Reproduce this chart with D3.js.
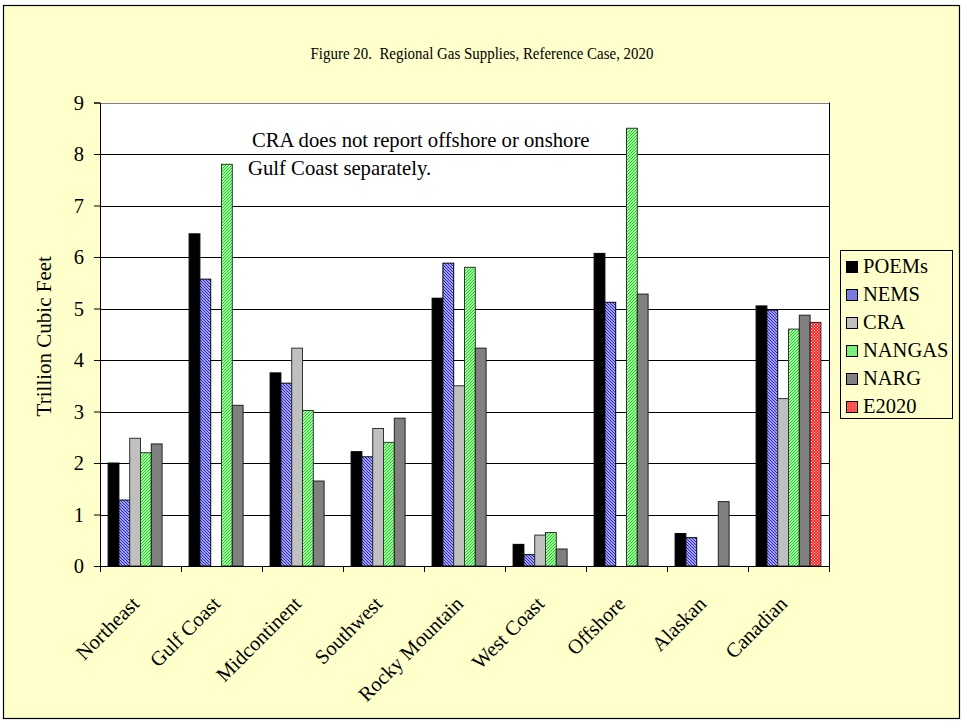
<!DOCTYPE html>
<html>
<head>
<meta charset="utf-8">
<script src="https://cdn.jsdelivr.net/npm/d3@7"></script>
<style>
  html, body { margin: 0; padding: 0; background: #fff; }
</style>
</head>
<body>
<svg id="chart" width="964" height="724"></svg>
<script>
// Regional gas supplies by source, Reference Case 2020 (trillion cubic feet)
const regions = ["Northeast", "Gulf Coast", "Midcontinent", "Southwest", "Rocky Mountain",
                 "West Coast", "Offshore", "Alaskan", "Canadian"];
const seriesNames = ["POEMs", "NEMS", "CRA", "NANGAS", "NARG", "E2020"];
const poems  = [2.00, 6.45, 3.75, 2.22, 5.20, 0.42, 6.07, 0.63, 5.05];
const nems   = [1.28, 5.57, 3.55, 2.12, 5.88, 0.22, 5.12, 0.55, 4.97];
const cra    = [2.48, null, 4.23, 2.67, 3.50, 0.60, null, null, 3.25];
const nangas = [2.20, 7.80, 3.02, 2.40, 5.80, 0.65, 8.50, null, 4.60];
const narg   = [2.37, 3.12, 1.65, 2.87, 4.23, 0.33, 5.28, 1.25, 4.87];
const e2020  = [null, null, null, null, null, null, null, null, 4.73];
const yTicks = [0, 1, 2, 3, 4, 5, 6, 7, 8, 9];

const seriesValues = [poems, nems, cra, nangas, narg, e2020];
const FONT = "'Liberation Serif', 'Times New Roman', serif";

const svg = d3.select("#chart");
const W = 964, H = 724;
const plot = { left: 100, right: 829, top: 102.5, bottom: 566 };

// Serif label helper: optional rotation and horizontal stretch
function label(parent, x, y, str, size, opts = {}) {
  const sx = opts.sx || 1;
  const g = parent.append("g")
    .attr("transform", `translate(${x},${y})${opts.rotate ? ` rotate(${opts.rotate})` : ""}${sx !== 1 ? ` scale(${sx},1)` : ""}`);
  return g.append("text")
    .attr("font-family", FONT).attr("font-size", size).attr("fill", "#000")
    .attr("text-anchor", opts.anchor || "start")
    .attr("dy", opts.dy || null)
    .style("white-space", "pre")
    .text(str);
}

// page background and frame
svg.append("rect").attr("width", W).attr("height", H).attr("fill", "#ffffff");
svg.append("rect").attr("x", 3.5).attr("y", 5.5).attr("width", 956).attr("height", 713)
  .attr("fill", "#ffffcc").attr("stroke", "#000").attr("stroke-width", 1.2);

// fill patterns
const defs = svg.append("defs");
const pBlue = defs.append("pattern").attr("id", "pat-nems").attr("patternUnits", "userSpaceOnUse")
  .attr("width", 3).attr("height", 3);
pBlue.append("rect").attr("width", 3).attr("height", 3).attr("fill", "#ffffff");
pBlue.append("path").attr("d", "M-1,-1 L4,4 M-1,2 L1,4 M2,-1 L4,1").attr("stroke", "#2b2bd0").attr("stroke-width", 1.3);

const pGreen = defs.append("pattern").attr("id", "pat-nangas").attr("patternUnits", "userSpaceOnUse")
  .attr("width", 3).attr("height", 3);
pGreen.append("rect").attr("width", 3).attr("height", 3).attr("fill", "#ffffff");
pGreen.append("path").attr("d", "M-1,4 L4,-1 M-1,1 L1,-1 M2,4 L4,2").attr("stroke", "#00e000").attr("stroke-width", 1.2);

const pRed = defs.append("pattern").attr("id", "pat-e2020").attr("patternUnits", "userSpaceOnUse")
  .attr("width", 3).attr("height", 3);
pRed.append("rect").attr("width", 3).attr("height", 3).attr("fill", "#ff2020");
pRed.append("rect").attr("width", 1).attr("height", 1).attr("fill", "#ffffff");
pRed.append("rect").attr("x", 1.5).attr("y", 1.5).attr("width", 1).attr("height", 1).attr("fill", "#ffffff");

const fills = ["#000000", "url(#pat-nems)", "#c0c0c0", "url(#pat-nangas)", "#808080", "url(#pat-e2020)"];
const strokes = ["#000", "#000", "#333", "#333", "#222", "#222"];

// scales
const x0 = d3.scaleBand().domain(regions).range([plot.left, plot.right]).paddingInner(0).paddingOuter(0);
// 6 bars + 150% gap per category
const x1 = d3.scaleBand().domain(seriesNames).range([0, x0.bandwidth()]).paddingInner(0)
  .paddingOuter(0.75);
const y = d3.scaleLinear().domain([0, 9]).range([plot.bottom, plot.top]);

// plot area
svg.append("rect").attr("x", plot.left).attr("y", plot.top)
  .attr("width", plot.right - plot.left).attr("height", plot.bottom - plot.top).attr("fill", "#ffffff");

// gridlines
svg.append("g").selectAll("line").data(yTicks.filter(d => d > 0)).join("line")
  .attr("x1", plot.left).attr("x2", plot.right)
  .attr("y1", d => Math.round(y(d)) + 0.5).attr("y2", d => Math.round(y(d)) + 0.5)
  .attr("stroke", d => d === 9 ? "#808080" : "#000").attr("stroke-width", 1);

// right border of plot area
svg.append("line").attr("x1", plot.right + 0.5).attr("x2", plot.right + 0.5)
  .attr("y1", plot.top).attr("y2", plot.bottom).attr("stroke", "#000");

// bars
const groups = svg.append("g").selectAll("g").data(regions).join("g")
  .attr("transform", d => `translate(${x0(d)},0)`);
groups.selectAll("rect")
  .data((r, i) => seriesNames.map((s, j) => ({ s, j, v: seriesValues[j][i] })).filter(d => d.v != null))
  .join("rect")
  .attr("x", d => x1(d.s))
  .attr("width", x1.bandwidth())
  .attr("y", d => y(d.v))
  .attr("height", d => y(0) - y(d.v))
  .attr("fill", d => fills[d.j])
  .attr("stroke", d => strokes[d.j])
  .attr("stroke-width", 1);

// y axis (tick marks from d3, labels set in serif)
const yAxis = svg.append("g").attr("transform", `translate(${plot.left},0)`)
  .call(d3.axisLeft(y).tickValues(yTicks).tickSize(6).tickFormat(""));
yAxis.select(".domain").attr("stroke", "#000");
yAxis.selectAll(".tick line").attr("stroke", "#000");
yAxis.selectAll(".tick").each(function (d) {
  label(d3.select(this), -16, 0, d3.format("d")(d), 20.5, { anchor: "end", dy: "0.34em" });
});

// x axis with ticks between categories
const xAxisG = svg.append("g").attr("transform", `translate(0,${plot.bottom})`);
xAxisG.append("line").attr("x1", plot.left).attr("x2", plot.right + 1)
  .attr("y1", 0.5).attr("y2", 0.5).attr("stroke", "#000");
const boundaries = regions.map(r => x0(r)).concat([plot.right]);
xAxisG.selectAll("line.tk").data(boundaries).join("line").attr("class", "tk")
  .attr("x1", d => Math.round(d) + 0.5).attr("x2", d => Math.round(d) + 0.5)
  .attr("y1", 0).attr("y2", 6).attr("stroke", "#000");
regions.forEach(r => {
  label(xAxisG, x0(r) + x0.bandwidth() / 2, 39, r, 20.5, { anchor: "end", rotate: -45 });
});

// axis title
label(svg, 51, (plot.top + plot.bottom) / 2 + 2, "Trillion Cubic Feet", 21, { anchor: "middle", rotate: -90 });

// chart title
label(svg, 482, 59, "Figure 20.  Regional Gas Supplies, Reference Case, 2020", 16.6,
  { anchor: "middle", sx: 0.9 });

// note
label(svg, 252, 146.5, "CRA does not report offshore or onshore", 20.7);
label(svg, 248, 174.5, "Gulf Coast separately.", 20.7);

// legend
const legend = svg.append("g");
legend.append("rect").attr("x", 840.5).attr("y", 250.5).attr("width", 112).attr("height", 168)
  .attr("fill", "#ffffcc").attr("stroke", "#000").attr("stroke-width", 1);
seriesNames.forEach((name, i) => {
  const row = legend.append("g").attr("transform", `translate(846.5,${261.5 + i * 28})`);
  row.append("rect").attr("width", 11).attr("height", 11)
    .attr("fill", fills[i]).attr("stroke", "#000").attr("stroke-width", 1);
  label(row, 16.5, 11.5, name, 20.5);
});
</script>
</body>
</html>
